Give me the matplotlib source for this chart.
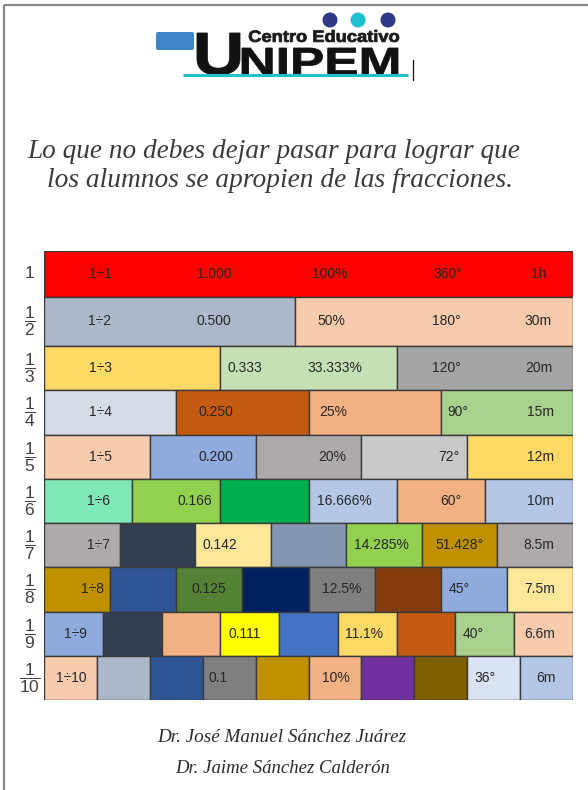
import matplotlib
matplotlib.use('Agg')
import matplotlib.pyplot as plt
from matplotlib.patches import FancyBboxPatch, Circle, PathPatch
from matplotlib.textpath import TextPath
from matplotlib.font_manager import FontProperties
from matplotlib.transforms import Affine2D
import numpy as np

plt.rcParams['mathtext.fontset'] = 'custom'
plt.rcParams['mathtext.rm'] = 'Liberation Sans'
plt.rcParams['mathtext.it'] = 'Liberation Sans:italic'
plt.rcParams['mathtext.bf'] = 'Liberation Sans:bold'

# ---------------- data ----------------
denominators = [1, 2, 3, 4, 5, 6, 7, 8, 9, 10]
# the 1/2 row in the picture is split slightly left of the middle
half_row_widths = [0.474, 0.526]
division_labels = ['1÷1', '1÷2', '1÷3', '1÷4', '1÷5', '1÷6', '1÷7', '1÷8', '1÷9', '1÷10']
decimal_labels = ['1.000', '0.500', '0.333', '0.250', '0.200', '0.166', '0.142', '0.125', '0.111', '0.1']
percent_labels = ['100%', '50%', '33.333%', '25%', '20%', '16.666%', '14.285%', '12.5%', '11.1%', '10%']
degree_labels = ['360°', '180°', '120°', '90°', '72°', '60°', '51.428°', '45°', '40°', '36°']
time_labels = ['1h', '30m', '20m', '15m', '12m', '10m', '8.5m', '7.5m', '6.6m', '6m']

title_lines = ['Lo que no debes dejar pasar para lograr que',
               'los alumnos se apropien de las fracciones.']
authors = ['Dr. José Manuel Sánchez Juárez', 'Dr. Jaime Sánchez Calderón']

# ---------------- styles / layout ----------------
row_colors = [
    ['#FF0000'],
    ['#ADB9CA', '#F8CBAD'],
    ['#FFD966', '#C5E0B4', '#A5A5A5'],
    ['#D6DCE5', '#C55A11', '#F4B183', '#A9D18E'],
    ['#F8CBAD', '#8FAADC', '#AEAAAA', '#C9C9C9', '#FFD966'],
    ['#7FE8B8', '#92D050', '#00B050', '#B4C7E7', '#F4B183', '#B4C7E7'],
    ['#AEAAAA', '#333F50', '#FFE699', '#8497B0', '#92D050', '#BF9000', '#AEAAAA'],
    ['#BF9000', '#2F5597', '#548235', '#002060', '#7F7F7F', '#843C0C', '#8FAADC', '#FFE699'],
    ['#8FAADC', '#333F50', '#F4B183', '#FFFF00', '#4472C4', '#FFD966', '#C55A11', '#A9D18E', '#F8CBAD'],
    ['#F8CBAD', '#ADB9CA', '#2F5597', '#7F7F7F', '#BF9000', '#F4B183', '#7030A0', '#7F6000', '#DAE3F3', '#B4C7E7'],
]
row_heights = [46, 49, 44, 45, 44, 44, 44, 45, 44, 44]
# horizontal pixel positions of the label columns in each row
div_x = [100, 100, 100, 100, 100, 99, 99, 92, 75, 71]
dec_x = [214, 214, 245, 216, 216, 195, 220, 209, 245, 218]
pct_x = [330, 331, 335, 333, 332, 344, 381, 342, 364, 336]
deg_x = [448, 446, 446, 458, 449, 451, 459, 459, 473, 485]
time_x = [539, 538, 539, 540, 541, 541, 539, 540, 540, 546]

W, H = 588, 790
WALL_L, WALL_R, WALL_T, WALL_B = 44, 573, 251, 700

fig = plt.figure(figsize=(W / 100, H / 100), dpi=100)
fig.patch.set_facecolor('white')

# overlay axes in pixel coordinates for decoration
ov = fig.add_axes([0, 0, 1, 1])
ov.set_xlim(0, W)
ov.set_ylim(H, 0)
ov.axis('off')

# page border
ov.plot([4, W], [5, 5], color='#8a8a8a', lw=1.6, solid_capstyle='butt')
ov.plot([4, 4], [5, H], color='#8a8a8a', lw=1.6, solid_capstyle='butt')


def path_in_box(text, x0, x1, y0, y1, color, weight='bold', family='Liberation Sans'):
    fp = FontProperties(family=family, weight=weight)
    tp = TextPath((0, 0), text, size=10, prop=fp)
    ext = tp.get_extents()
    sx = (x1 - x0) / ext.width
    sy = (y1 - y0) / ext.height
    tr = Affine2D().translate(-ext.x0, -ext.y0).scale(sx, -sy).translate(x0, y1)
    p = tr.transform_path(tp)
    ov.add_patch(PathPatch(p, facecolor=color, edgecolor=color, lw=0.6))


# logo
ov.add_patch(FancyBboxPatch((156, 32), 38, 18, boxstyle='round,pad=0,rounding_size=2',
                            facecolor='#3F86C6', edgecolor='none'))
path_in_box('U', 197, 240, 33, 75, '#111111')
path_in_box('NIPEM', 242, 398, 48, 75, '#111111')
path_in_box('Centro Educativo', 249, 399, 30, 42, '#1a1a1a')
for cx, col in zip([330, 358, 388], ['#2E3A87', '#1BBFD0', '#2E3A87']):
    ov.add_patch(Circle((cx, 20), 7.5, facecolor=col, edgecolor='none'))
ov.plot([183, 408], [74.5, 74.5], color='#22C1CF', lw=2.2, solid_capstyle='butt')
ov.plot([413, 413], [60, 80], color='#111111', lw=0.9)

renderer = fig.canvas.get_renderer()


def fit_text(s, xc, yb, width, color, family='Liberation Serif', style='italic'):
    t = ov.text(xc, yb, s, ha='center', va='baseline', fontsize=12,
                family=family, style=style, color=color)
    w = t.get_window_extent(renderer).width
    t.set_fontsize(12 * width / w)
    return t


fit_text(title_lines[0], 274, 158, 492, '#3a3a3a')
fit_text(title_lines[1], 280, 187, 465, '#3a3a3a')
fit_text(authors[0], 282, 742, 249, '#2a2a2a')
fit_text(authors[1], 283, 773, 215, '#2a2a2a')

# ---------------- the fraction wall ----------------
ax = fig.add_axes([WALL_L / W, 1 - WALL_B / H, (WALL_R - WALL_L) / W, (WALL_B - WALL_T) / H])
ax.set_xlim(0, 1)
total = sum(row_heights)
ax.set_ylim(total, 0)
ax.axis('off')

tops = np.concatenate([[0], np.cumsum(row_heights)[:-1]])
centers = tops + np.array(row_heights) / 2.0
span = WALL_R - WALL_L

for i, n in enumerate(denominators):
    widths = np.array(half_row_widths) if n == 2 else np.full(n, 1.0 / n)
    lefts = np.concatenate([[0], np.cumsum(widths)[:-1]])
    ax.barh([centers[i]] * n, widths, left=lefts, height=row_heights[i],
            color=row_colors[i], edgecolor='#3a3a3a', linewidth=1.0)
    for labels, xs in ((division_labels, div_x), (decimal_labels, dec_x),
                       (percent_labels, pct_x), (degree_labels, deg_x),
                       (time_labels, time_x)):
        ax.text((xs[i] - WALL_L) / span, centers[i], labels[i], ha='center', va='center',
                fontsize=10, family='Liberation Sans', color='#262626')
    frac = '1' if n == 1 else r'$\dfrac{1}{%d}$' % n
    ax.text((30 - WALL_L) / span, centers[i], frac, ha='center', va='center',
            fontsize=12.5, family='Liberation Sans', color='#404040', clip_on=False)

fig.savefig('out.png', dpi=100, facecolor='white')
